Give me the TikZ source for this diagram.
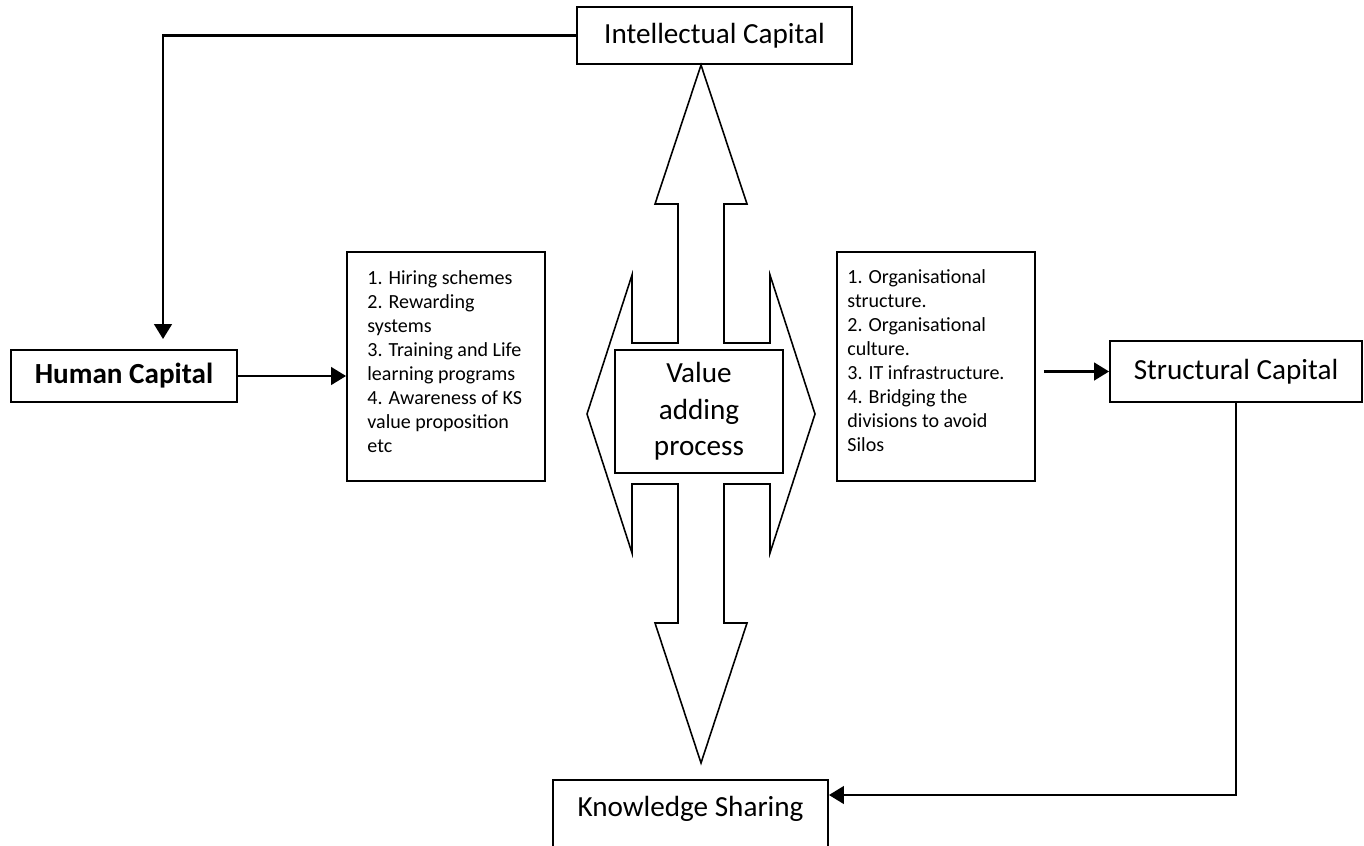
\documentclass[tikz,border=0pt]{standalone}
\usepackage{fontspec}
\setmainfont{Carlito}
\usetikzlibrary{arrows.meta,calc}
\newcommand{\boxfont}{\fontsize{16.6pt}{20.8pt}\selectfont}
\newcommand{\listfont}{\fontsize{11.4pt}{13.7pt}\selectfont}
\tikzset{
  capbox/.style={rectangle, draw, line width=1.1pt, inner sep=0pt, font=\boxfont},
  listbox/.style={rectangle, draw, line width=1.1pt, minimum width=3.96cm, minimum height=4.58cm, inner sep=0pt},
  listtext/.style={anchor=north west, align=left, inner sep=0pt, font=\listfont},
  conn/.style={line width=1.4pt, -{Triangle[length=8.5pt,width=10pt]}},
  bigarrow/.style={line width=0.9pt, fill=white},
}
\begin{document}
\begin{tikzpicture}[x=0.02cm, y=-0.02cm]
    \useasboundingbox (0,0) rectangle (1364,845);
    \clip (0,0) rectangle (1364,845);
    % capital boxes
    \node[capbox, minimum width=5.5cm, minimum height=1.14cm] (ic) at (714.5,35.5) {Intellectual Capital};
    \node[capbox, minimum width=4.52cm, minimum height=1.04cm] (hc) at (124,376) {\textbf{Human Capital}};
    \node[capbox, minimum width=5.04cm, minimum height=1.22cm] (sc) at (1236,371.5) {Structural Capital};
    \node[capbox, anchor=north, minimum width=5.5cm, text height=0.74cm, text depth=2cm] (ks) at (690.5,779) {Knowledge Sharing};
    % four way arrow
    \begin{scope}[shift={(701,414)}]
        \draw[bigarrow] (0,-349) -- (46,-210) -- (23,-210) -- (23,-71) -- (69,-71) -- (69,-139) -- (114,0) -- (69,139) -- (69,70) -- (23,70) -- (23,209) -- (46,209) -- (0,349) -- (-46,209) -- (-23,209) -- (-23,70) -- (-69,70) -- (-69,139) -- (-114,0) -- (-69,-139) -- (-69,-71) -- (-23,-71) -- (-23,-210) -- (-46,-210) -- cycle;
    \end{scope}
    \node[capbox, minimum width=3.36cm, minimum height=2.46cm, align=center, fill=white] (vap) at (699,411.5) {Value\\adding\\process};
    % lists
    \node[listbox] (hcbox) at (446,366.5) {};
    \node[listtext] (hclist) at ($(hcbox.north west)+(21,19)$) {1. Hiring schemes\\2. Rewarding\\systems\\3. Training and Life\\learning programs\\4. Awareness of KS\\value proposition\\etc};
    \node[listbox] (scbox) at (936,366.5) {};
    \node[listtext] (sclist) at ($(scbox.north west)+(11,18)$) {1. Organisational\\structure.\\2. Organisational\\culture.\\3. IT infrastructure.\\4. Bridging the\\divisions to avoid\\Silos};
    % connectors
    \draw[conn, shorten >=0.2cm] (ic.west) -| ($(hc.north)+(39,0)$);
    \draw[conn] (hc.east) -- (hc.east -| hcbox.west);
    \draw[conn, shorten <=0.16cm] (sc.west -| scbox.east) -- (sc.west);
    \draw[conn] (sc.south) |- ($(ks.north east)+(0,16)$);
\end{tikzpicture}
\end{document}
